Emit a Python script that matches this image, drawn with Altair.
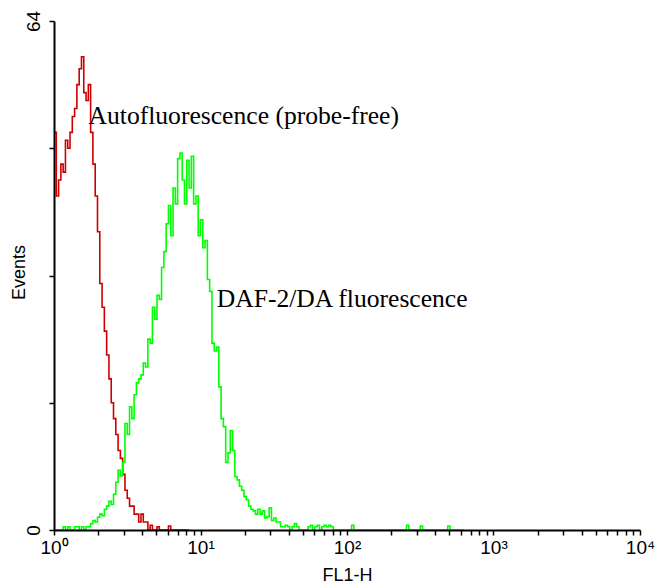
import altair as alt
import pandas as pd

# Histogram counts per channel (256 channels over 4 decades)
red_counts = [50, 42, 44, 46, 45, 49, 48, 50, 52, 53,
              56, 58, 59.5, 55, 54, 56, 50, 46, 42, 37.5,
              31, 28, 25, 22, 19, 16, 14, 12, 10, 9,
              7, 5, 4, 3, 3, 2, 2, 1, 2, 1,
              1, 0, 0.6, 0, 0, 0.4, 0, 0, 0, 0,
              0.5, 0, 0, 0, 0, 0, 0, 0, 0, 0]

green_counts = [0, 0, 0, 0, 0.4, 0, 0.4, 0, 0, 0.4,
                0.4, 0, 0.4, 0, 0.4, 0.4, 0.8, 1.2, 1.0, 1.6,
                2.0, 1.8, 2.6, 3.0, 3.6, 3.2, 4.5, 6.0, 7.5, 6.8,
                8.5, 13.4, 12.0, 15.5, 14.0, 17.0, 18.5, 19.0, 19.5, 21.0,
                20.5, 24.0, 23.5, 28.0, 26.5, 29.5, 29.0, 33.0, 35.0, 38.5,
                40.8, 37.0, 43.0, 41.0, 46.7, 47.4, 44.0, 41.0, 46.5, 43.0,
                47.0, 41.0, 42.0, 37.0, 39.0, 35.5, 36.4, 31.5, 30.0, 23.5,
                22.5, 23.0, 18.0, 14.0, 13.0, 8.5, 9.7, 12.5, 10.0, 6.7,
                6.3, 5.5, 5.0, 4.2, 3.8, 3.0, 2.6, 2.4, 2.0, 2.6,
                2.0, 2.4, 1.5, 1.7, 2.8, 1.2, 1.5, 1.0, 1.0, 0.4,
                0.4, 0.6, 0.4, 0, 0.4, 0.8, 0.4, 0, 0, 0,
                0, 0.4, 0.6, 0, 0.4, 0.6, 0, 0.4, 0.6, 0.4,
                0.6, 0.4, 0, 0, 0, 0, 0, 0, 0, 0,
                0.6, 0, 0, 0, 0, 0, 0, 0, 0, 0,
                0, 0, 0, 0, 0, 0, 0, 0, 0, 0,
                0, 0, 0, 0, 0.6, 0, 0, 0, 0, 0,
                0.5, 0, 0, 0, 0, 0, 0, 0, 0, 0,
                0, 0, 0.5, 0, 0, 0, 0, 0, 0, 0]

n_channels = 256
decades = 4

label_texts = ["Autofluorescence (probe-free)", "DAF-2/DA fluorescence"]
label_x = [1.72, 12.9]
label_y = [51.1, 28.1]

x_tick_values = [m * 10 ** d for d in range(4) for m in range(1, 10)] + [10000]
y_tick_values = [0, 16, 32, 48, 64]

rows = []
for i, c in enumerate(red_counts):
    rows.append({"fl": 10 ** (i * decades / n_channels), "events": c, "series": "Auto"})
for i, c in enumerate(green_counts):
    rows.append({"fl": 10 ** (i * decades / n_channels), "events": c, "series": "DAF"})
df = pd.DataFrame(rows)

lab_df = pd.DataFrame({"text": label_texts, "x": label_x, "y": label_y})

xscale = alt.Scale(type="log", domain=[1, 10000], nice=False)
yscale = alt.Scale(domain=[0, 64], nice=False)

label_expr = ("datum.value == 1 ? '10⁰' : datum.value == 10 ? '10¹' : "
              "datum.value == 100 ? '10²' : datum.value == 1000 ? '10³' : "
              "datum.value == 10000 ? '10⁴' : ''")

x_axis = alt.Axis(values=x_tick_values, labelExpr=label_expr, title="FL1-H",
                  grid=False, tickSize=5, tickWidth=1.5, domainWidth=2,
                  domainColor="black", tickColor="black", labelColor="black",
                  titleColor="black", labelFont="Liberation Sans",
                  titleFont="Liberation Sans", labelFontSize=19,
                  titleFontSize=18, titleFontWeight="normal",
                  labelPadding=3, labelFlush=False, labelOverlap=False,
                  titleY=45, titleBaseline="middle", zindex=1)

y_axis = alt.Axis(values=y_tick_values,
                  labelExpr="datum.value == 0 || datum.value == 64 ? datum.label : ''",
                  title="Events", grid=False, tickSize=5, tickWidth=1.5,
                  domainWidth=2, domainColor="black", tickColor="black",
                  labelColor="black", titleColor="black",
                  labelFont="Liberation Sans", titleFont="Liberation Sans",
                  labelFontSize=19, titleFontSize=18, titleFontWeight="normal",
                  labelAngle=270, labelAlign="center", labelBaseline="bottom",
                  labelPadding=6, labelFlush=False, labelOverlap=False,
                  titleX=-35, titleY=251, titleAngle=270, titleAlign="center",
                  titleBaseline="middle", zindex=1)

lines = alt.Chart(df).mark_line(interpolate="step-after", strokeWidth=1.6, clip=True).encode(
    x=alt.X("fl:Q", scale=xscale, axis=x_axis),
    y=alt.Y("events:Q", scale=yscale, axis=y_axis),
    color=alt.Color("series:N", scale=alt.Scale(domain=["Auto", "DAF"],
                                                range=["#cc0000", "#00ff00"]),
                    legend=None),
    detail="series:N",
)

texts = alt.Chart(lab_df).mark_text(font="Liberation Serif", fontSize=25.6,
                                    align="left", baseline="alphabetic",
                                    color="black").encode(
    x=alt.X("x:Q", scale=xscale),
    y=alt.Y("y:Q", scale=yscale),
    text="text:N",
)

chart = alt.layer(lines, texts).properties(
    width=586, height=509,
    padding={"left": 54, "top": 21, "right": 21, "bottom": 54},
    autosize="none",
    background="white",
).configure_view(stroke=None)

chart.save("out.html", embed_options={"renderer": "svg", "actions": False})
